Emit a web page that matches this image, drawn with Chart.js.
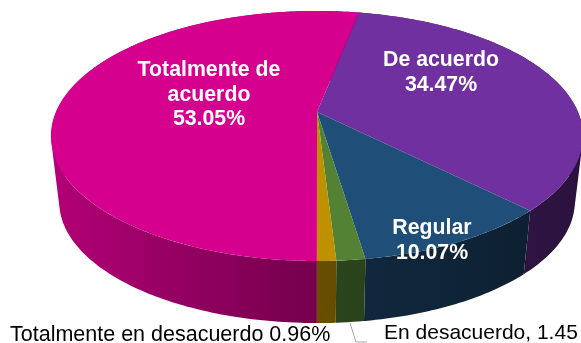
<!DOCTYPE html>
<html>
<head>
<meta charset="utf-8">
<script src="https://cdn.jsdelivr.net/npm/chart.js@4"></script>
<style>
    html, body { margin: 0; padding: 0; background: #fff; overflow: hidden; }
    canvas { display: block; }
</style>
</head>
<body>
<canvas id="pieChart" width="581" height="343"></canvas>
<script>
const categories = ["De acuerdo", "Regular", "En desacuerdo", "Totalmente en desacuerdo", "Totalmente de acuerdo"];
const values = [34.47, 10.07, 1.45, 0.96, 53.05];
const sliceColors = ["#7030A0", "#1F4E79", "#548235", "#BF9000", "#D5008D"];
const FONT = '"Liberation Sans", Arial, sans-serif';

// perspective of the disc: k tilts it, top and bottom faces have their own apex
const K = -0.192;
const topFace = { x: 317, y: 112, rx: 261, ry: 120.4 };
const bottomFace = { x: 317, y: 178.5, rx: 253, ry: 116.8 };

function project(face, angle) {
    const c = Math.cos(angle), s = Math.sin(angle);
    const d = 1 + K * s;
    return [face.x + face.rx * c / d, face.y + face.ry * s / d];
}

function darken(hex, f) {
    const n = parseInt(hex.slice(1), 16);
    return `rgb(${Math.round((n >> 16) * f)},${Math.round(((n >> 8) & 255) * f)},${Math.round((n & 255) * f)})`;
}

function traceRim(ctx, face, from, to) {
    const n = Math.max(2, Math.ceil(Math.abs(to - from) / 0.01));
    for (let i = 0; i <= n; i++) {
        const p = project(face, from + (to - from) * i / n);
        ctx.lineTo(p[0], p[1]);
    }
}

function drawWall(ctx, arc, color) {
    // wall is lit from the left, darkest towards the right
    const grad = ctx.createLinearGradient(51, 0, 583, 0);
    grad.addColorStop(0, darken(color, 0.84));
    grad.addColorStop(0.5, darken(color, 0.54));
    grad.addColorStop(1, darken(color, 0.38));
    // small quads in one path, one fill, so no seams and the side silhouette is filled too
    const step = Math.PI / 180;
    ctx.beginPath();
    for (let a = arc.startAngle; a < arc.endAngle; a += step) {
        const b = Math.min(a + step, arc.endAngle);
        let q = [project(topFace, a), project(topFace, b), project(bottomFace, b), project(bottomFace, a)];
        let area = 0;
        q.forEach((p, i) => {
            const n = q[(i + 1) % 4];
            area += p[0] * n[1] - n[0] * p[1];
        });
        if (area < 0) q = q.reverse();
        ctx.moveTo(q[0][0], q[0][1]);
        for (let i = 1; i < 4; i++) ctx.lineTo(q[i][0], q[i][1]);
        ctx.closePath();
    }
    ctx.fillStyle = grad;
    ctx.fill();
}

function drawTop(ctx, arc, color) {
    ctx.beginPath();
    ctx.moveTo(topFace.x, topFace.y);
    traceRim(ctx, topFace, arc.startAngle, arc.endAngle);
    ctx.closePath();
    ctx.fillStyle = color;
    ctx.fill();
}

function text(ctx, str, x, y, font, color, align) {
    ctx.font = font;
    ctx.fillStyle = color;
    ctx.textAlign = align || "center";
    ctx.textBaseline = "middle";
    ctx.fillText(str, x, y);
}

// the library works out the angles, this plugin paints them as a tilted disc
const disc3d = {
    id: "disc3d",
    beforeDatasetsDraw(chart) {
        const ctx = chart.ctx;
        const arcs = chart.getDatasetMeta(0).data;
        ctx.save();
        arcs.forEach((arc, i) => drawWall(ctx, arc, sliceColors[i]));
        arcs.forEach((arc, i) => drawTop(ctx, arc, sliceColors[i]));
        ctx.restore();
        return false;
    },
    afterDraw(chart) {
        const ctx = chart.ctx;
        const bold = "bold 21.3px " + FONT;
        ctx.save();
        text(ctx, "Totalmente de", 209, 70, bold, "#fff");
        text(ctx, "acuerdo", 209, 95, bold, "#fff");
        text(ctx, values[4].toFixed(2) + "%", 209, 119, bold, "#fff");
        text(ctx, categories[0], 441, 60, bold, "#fff");
        text(ctx, values[0].toFixed(2) + "%", 441, 85, bold, "#fff");
        text(ctx, categories[1], 432, 228, bold, "#fff");
        text(ctx, values[1].toFixed(2) + "%", 432, 253, bold, "#fff");

        ctx.strokeStyle = "#a6a6a6";
        ctx.lineWidth = 1;
        ctx.beginPath();
        ctx.moveTo(350, 323);
        ctx.lineTo(356, 342);
        ctx.lineTo(367, 342);
        ctx.stroke();

        text(ctx, categories[3] + " " + values[3].toFixed(2) + "%", 10, 335, "21.5px " + FONT, "#000", "left");
        text(ctx, categories[2] + ", " + values[2].toFixed(2), 384, 333, "21px " + FONT, "#000", "left");
        ctx.restore();
    }
};

new Chart(document.getElementById("pieChart"), {
    type: "pie",
    data: {
        labels: categories,
        datasets: [{ data: values, backgroundColor: sliceColors, borderWidth: 0 }]
    },
    options: {
        responsive: false,
        animation: false,
        rotation: 11,
        plugins: { legend: { display: false }, tooltip: { enabled: false } }
    },
    plugins: [disc3d]
});
</script>
</body>
</html>
